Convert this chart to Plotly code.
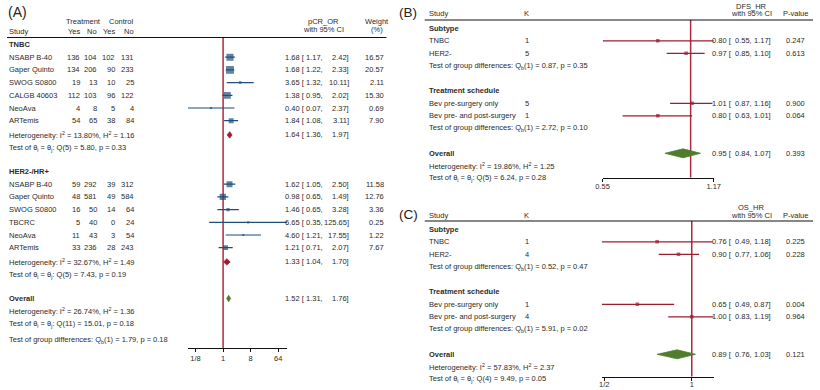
import math
import plotly.graph_objects as go

W, H = 820, 390
FONT = "Liberation Sans, Arial, Helvetica, sans-serif"
FS = 7.5
TXT = "#2b2b2b"
BLUE = "#1f4e7a"
DRED = "#9e1c30"
REF = "#b0283f"
GREEN = "#4e7d2b"

# ---------------- Panel A data (pCR odds ratio) ----------------
tnbc_studies = ["NSABP B-40", "Gaper Quinto", "SWOG S0800", "CALGB 40603", "NeoAva", "ARTemis"]
tnbc_trt_yes = [136, 134, 19, 112, 4, 54]
tnbc_trt_no = [104, 206, 13, 103, 8, 65]
tnbc_ctl_yes = [102, 90, 10, 96, 5, 38]
tnbc_ctl_no = [131, 233, 25, 122, 4, 84]
tnbc_or = [1.68, 1.68, 3.65, 1.38, 0.40, 1.84]
tnbc_lo = [1.17, 1.22, 1.32, 0.95, 0.07, 1.08]
tnbc_hi = [2.42, 2.33, 10.11, 2.02, 2.37, 3.11]
tnbc_wt = [16.57, 20.57, 2.11, 15.30, 0.69, 7.90]
tnbc_pooled = [1.64, 1.36, 1.97]
tnbc_het = ["13.80%", "1.16"]
tnbc_q = ["5", "5.80", "0.33"]

her2_studies = ["NSABP B-40", "Gaper Quinto", "SWOG S0800", "TBCRC", "NeoAva", "ARTemis"]
her2_trt_yes = [59, 48, 16, 5, 11, 33]
her2_trt_no = [292, 581, 50, 40, 43, 236]
her2_ctl_yes = [39, 49, 14, 0, 3, 28]
her2_ctl_no = [312, 584, 64, 24, 54, 243]
her2_or = [1.62, 0.98, 1.46, 6.65, 4.60, 1.21]
her2_lo = [1.05, 0.65, 0.65, 0.35, 1.21, 0.71]
her2_hi = [2.50, 1.49, 3.28, 125.65, 17.55, 2.07]
her2_wt = [11.58, 12.76, 3.36, 0.25, 1.22, 7.67]
her2_pooled = [1.33, 1.04, 1.70]
her2_het = ["32.67%", "1.49"]
her2_q = ["5", "7.43", "0.19"]

a_overall = [1.52, 1.31, 1.76]
a_overall_het = ["26.74%", "1.36"]
a_overall_q = ["11", "15.01", "0.18"]
a_groupdiff = ["1", "1.79", "0.18"]
a_ticks = [1 / 8, 1, 8, 64]
a_ticklabels = ["1/8", "1", "8", "64"]

# ---------------- Panel B data (DFS hazard ratio) ----------------
dfs_labels = ["TNBC", "HER2-", "Bev pre-surgery only", "Bev pre- and post-surgery"]
dfs_k = [1, 5, 5, 1]
dfs_hr = [0.80, 0.97, 1.01, 0.80]
dfs_lo = [0.55, 0.85, 0.87, 0.63]
dfs_hi = [1.17, 1.10, 1.16, 1.01]
dfs_p = ["0.247", "0.613", "0.900", "0.064"]
dfs_overall = [0.95, 0.84, 1.07]
dfs_overall_p = "0.393"
dfs_groupdiff = [["1", "0.87", "0.35"], ["1", "2.72", "0.10"]]
dfs_het = ["19.86%", "1.25"]
dfs_q = ["5", "6.24", "0.28"]
dfs_ticks = [0.55, 1.17]
dfs_ticklabels = ["0.55", "1.17"]

# ---------------- Panel C data (OS hazard ratio) ----------------
os_labels = ["TNBC", "HER2-", "Bev pre-surgery only", "Bev pre- and post-surgery"]
os_k = [1, 4, 1, 4]
os_hr = [0.76, 0.90, 0.65, 1.00]
os_lo = [0.49, 0.77, 0.49, 0.83]
os_hi = [1.18, 1.06, 0.87, 1.19]
os_p = ["0.225", "0.228", "0.004", "0.964"]
os_overall = [0.89, 0.76, 1.03]
os_overall_p = "0.121"
os_groupdiff = [["1", "0.52", "0.47"], ["1", "5.91", "0.02"]]
os_het = ["57.83%", "2.37"]
os_q = ["4", "9.49", "0.05"]
os_ticks = [0.5, 1]
os_ticklabels = ["1/2", "1"]

group_titles = ["Subtype", "Treatment schedule"]

# ---------------- helpers ----------------
ann = []
shapes = []
traces = []


def T(x, y, s, align="left", size=FS, color=TXT, bold=False):
    if bold:
        s = "<b>" + s + "</b>"
    ann.append(dict(x=x / W, y=1 - y / H, xref="paper", yref="paper", text=s,
                    showarrow=False, xanchor=align, yanchor="middle",
                    borderpad=0, borderwidth=0,
                    font=dict(size=size, color=color, family=FONT)))


def hline(x0, x1, y, color="#111", width=1.2):
    shapes.append(dict(type="line", xref="paper", yref="paper", x0=x0 / W, x1=x1 / W,
                       y0=1 - y / H, y1=1 - y / H, line=dict(color=color, width=width)))


def refline(xaxis, y0, y1):
    shapes.append(dict(type="line", xref=xaxis, yref="y", x0=1, x1=1, y0=y0, y1=y1,
                       line=dict(color=REF, width=1.5), layer="below"))


def diamond(xaxis, est, lo, hi, yc, half, color):
    traces.append(go.Scatter(x=[lo, est, hi, est, lo], y=[yc, yc - half, yc, yc + half, yc],
                             xaxis=xaxis, yaxis="y", mode="lines", fill="toself",
                             fillcolor=color, line=dict(color=color, width=0.8),
                             hoverinfo="skip", showlegend=False))


def ci_points(xaxis, est, lo, hi, ys, sizes, color, lcolor, thick):
    traces.append(go.Scatter(
        x=est, y=ys, xaxis=xaxis, yaxis="y", mode="markers",
        marker=dict(symbol="square", size=sizes, color=color, line=dict(width=0)),
        error_x=dict(type="data", symmetric=False,
                     array=[h - e for h, e in zip(hi, est)],
                     arrayminus=[e - l for e, l in zip(est, lo)],
                     width=0, thickness=thick, color=lcolor),
        showlegend=False, hoverinfo="skip"))


def fmt2(v):
    return f"{v:.2f}"


def est_cols(y, est, lo, hi, xe, xl, xh):
    T(xe, y, fmt2(est) + " [", align="right")
    T(xl, y, fmt2(lo) + ",", align="right")
    T(xh, y, fmt2(hi) + "]", align="right")


# ---------------- Panel A ----------------
A_Y0, A_STEP = 44.5, 12.7
ay = lambda i: A_Y0 + A_STEP * i
A_HEAD_LINE = 37.5
A_AXIS_Y = 348
COLX = dict(study=2, ty=74, tn=91.5, cy=110, cn=129.5, est=303.5, lo=321.5, hi=347.5, wt=383.5)

T(1, 12, "(A)", size=14, color="#222")
T(77.5, 21, "Treatment", align="center")
T(116.5, 21, "Control", align="center")
T(COLX["study"], 31.5, "Study")
for key, lab in zip(["ty", "tn", "cy", "cn"], ["Yes", "No", "Yes", "No"]):
    T(COLX[key], 31.5, lab, align="right")
T(321.5, 21.5, "pCR_OR", align="center")
T(321.5, 29.5, "with 95% CI", align="center")
T(376.5, 21.5, "Weight", align="center")
T(376.5, 29.5, "(%)", align="center")
hline(0, 386, A_HEAD_LINE)

a_groups = [
    ("TNBC", tnbc_studies, tnbc_trt_yes, tnbc_trt_no, tnbc_ctl_yes, tnbc_ctl_no,
     tnbc_or, tnbc_lo, tnbc_hi, tnbc_wt, tnbc_pooled, tnbc_het, tnbc_q, 0),
    ("HER2-/HR+", her2_studies, her2_trt_yes, her2_trt_no, her2_ctl_yes, her2_ctl_no,
     her2_or, her2_lo, her2_hi, her2_wt, her2_pooled, her2_het, her2_q, 10),
]

for (gname, studies, ty, tn, cy, cn, orr, lo, hi, wt, pooled, het, q, start) in a_groups:
    T(COLX["study"], ay(start), gname, bold=True)
    ys = []
    for i, s in enumerate(studies):
        y = ay(start + 1 + i)
        ys.append(y)
        T(COLX["study"], y, s)
        T(COLX["ty"], y, str(ty[i]), align="right")
        T(COLX["tn"], y, str(tn[i]), align="right")
        T(COLX["cy"], y, str(cy[i]), align="right")
        T(COLX["cn"], y, str(cn[i]), align="right")
        est_cols(y, orr[i], lo[i], hi[i], COLX["est"], COLX["lo"], COLX["hi"])
        T(COLX["wt"], y, fmt2(wt[i]), align="right")
    sizes = [max(2.2, 1.75 * math.sqrt(w)) for w in wt]
    ci_points("x", orr, lo, hi, ys, sizes, BLUE, BLUE, 1.2)
    yh = ay(start + 7) + 1.5
    diamond("x", pooled[0], pooled[1], pooled[2], yh, 3.2, DRED)
    est_cols(yh, pooled[0], pooled[1], pooled[2], COLX["est"], COLX["lo"], COLX["hi"])
    T(COLX["study"], yh, f"Heterogeneity: I<sup>2</sup> = {het[0]}, H<sup>2</sup> = {het[1]}")
    T(COLX["study"], ay(start + 8) + 1.5,
      f"Test of θ<sub>i</sub> = θ<sub>j</sub>: Q({q[0]}) = {q[1]}, p = {q[2]}")

T(COLX["study"], ay(20), "Overall", bold=True)
diamond("x", a_overall[0], a_overall[1], a_overall[2], ay(20), 3.2, GREEN)
est_cols(ay(20), a_overall[0], a_overall[1], a_overall[2], COLX["est"], COLX["lo"], COLX["hi"])
T(COLX["study"], ay(21), f"Heterogeneity: I<sup>2</sup> = {a_overall_het[0]}, H<sup>2</sup> = {a_overall_het[1]}")
T(COLX["study"], ay(22), f"Test of θ<sub>i</sub> = θ<sub>j</sub>: Q({a_overall_q[0]}) = {a_overall_q[1]}, p = {a_overall_q[2]}")
T(COLX["study"], ay(23.3), f"Test of group differences: Q<sub>b</sub>({a_groupdiff[0]}) = {a_groupdiff[1]}, p = {a_groupdiff[2]}")
refline("x", A_HEAD_LINE, A_AXIS_Y)


# ---------------- Panels B and C ----------------
def side_panel(tag, xaxis, top, metric, labels, k, hr, lo, hi, pv, overall, overall_p,
               gdiff, het, q, axis_off):
    step = 12.5
    y0 = top + 28.3
    py = lambda i: y0 + step * i
    head_line = top + 20
    axis_y = top + axis_off
    T(399, top + 13, tag, size=13.5, color="#222")
    T(429, top + 14, "Study")
    T(529, top + 14, "K", align="center")
    T(757, top + 6.5, metric, align="center")
    T(757, top + 14, "with 95% CI", align="center")
    T(802, top + 14, "P-value", align="center")
    hline(425, 820, head_line)
    idx = [1, 2, 6, 7]
    ys = [py(i) for i in idx]
    T(429, py(0), group_titles[0], bold=True)
    T(429, py(5), group_titles[1], bold=True)
    for i, lab in enumerate(labels):
        T(429, ys[i], lab)
        T(529, ys[i], str(k[i]), align="center")
        est_cols(ys[i], hr[i], lo[i], hi[i], 738, 758, 777)
        T(812, ys[i], pv[i], align="right")
    for gi, row in zip(range(2), [3, 8]):
        g = gdiff[gi]
        T(429, py(row), f"Test of group differences: Q<sub>b</sub>({g[0]}) = {g[1]}, p = {g[2]}")
    ci_points(xaxis, hr, lo, hi, ys, [3.6] * len(hr), DRED, DRED, 1.3)
    T(429, py(10), "Overall", bold=True)
    diamond(xaxis, overall[0], overall[1], overall[2], py(10), 4.5, GREEN)
    est_cols(py(10), overall[0], overall[1], overall[2], 738, 758, 777)
    T(812, py(10), overall_p, align="right")
    T(429, py(11), f"Heterogeneity: I<sup>2</sup> = {het[0]}, H<sup>2</sup> = {het[1]}")
    T(429, py(12), f"Test of θ<sub>i</sub> = θ<sub>j</sub>: Q({q[0]}) = {q[1]}, p = {q[2]}")
    refline(xaxis, head_line, axis_y)
    return axis_y


b_axis_y = side_panel("(B)", "x2", 0, "DFS_HR", dfs_labels, dfs_k, dfs_hr, dfs_lo, dfs_hi,
                      dfs_p, dfs_overall, dfs_overall_p, dfs_groupdiff, dfs_het, dfs_q, 177.5)
c_axis_y = side_panel("(C)", "x3", 201, "OS_HR", os_labels, os_k, os_hr, os_lo, os_hi,
                      os_p, os_overall, os_overall_p, os_groupdiff, os_het, os_q, 175.5)

fig = go.Figure(traces)


def xax(domain, lo, hi, ticks, labels, axis_y, standoff):
    return dict(type="log", domain=[domain[0] / W, domain[1] / W],
                range=[math.log10(lo), math.log10(hi)], anchor="free",
                position=1 - axis_y / H, showline=True, linecolor="#111", linewidth=1,
                ticks="outside", ticklen=3, tickwidth=1, tickcolor="#111",
                tickvals=ticks, ticktext=labels, showgrid=False, zeroline=False,
                ticklabelstandoff=standoff,
                tickfont=dict(size=FS, color=TXT, family=FONT), fixedrange=True)


a_min = min(tnbc_lo + her2_lo)
a_max = max(tnbc_hi + her2_hi)
fig.update_layout(
    width=W, height=H, margin=dict(l=0, r=0, t=0, b=0),
    paper_bgcolor="white", plot_bgcolor="rgba(0,0,0,0)",
    xaxis=xax((184, 285), a_min, a_max, a_ticks, a_ticklabels, A_AXIS_Y, 0),
    xaxis2=xax((606, 719), min(dfs_lo + [dfs_overall[1]]), max(dfs_hi + [dfs_overall[2]]),
               dfs_ticks, dfs_ticklabels, b_axis_y, -2),
    xaxis3=xax((605, 719), min(os_lo + [os_overall[1]]), max(os_hi + [os_overall[2]]),
               os_ticks, os_ticklabels, c_axis_y, -3),
    yaxis=dict(range=[H, 0], domain=[0, 1], visible=False, fixedrange=True),
    annotations=ann, shapes=shapes, showlegend=False, hovermode=False,
    font=dict(family=FONT, size=FS, color=TXT),
)
fig.write_html("out.html", config={"displayModeBar": False, "staticPlot": True},
               post_script="document.body.style.margin='0';document.body.style.overflow='hidden';")
